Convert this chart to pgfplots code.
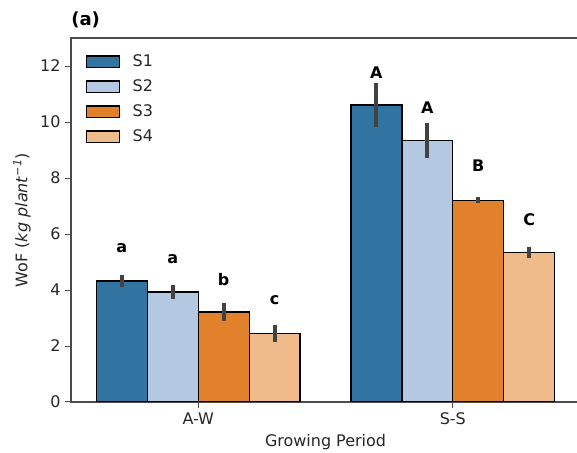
\documentclass[border=0pt]{standalone}
\usepackage{pgfplots}
\pgfplotsset{compat=1.18}
\usepackage{fontspec}
\setmainfont{DejaVu Sans}
\definecolor{cS1}{HTML}{3274A1}
\definecolor{cS2}{HTML}{B5C8E2}
\definecolor{cS3}{HTML}{E1812C}
\definecolor{cS4}{HTML}{F0BB8B}
\definecolor{txt}{HTML}{262626}
\definecolor{errc}{HTML}{424242}
\begin{document}
\begin{tikzpicture}
\begin{axis}[
  name=ax,
  width=366.5pt, height=262pt, scale only axis,
  xmin=-0.5, xmax=1.5, ymin=0, ymax=13,
  xtick={0,1}, xticklabels={A-W,S-S},
  ytick={0,2,4,6,8,10,12},
  tick align=outside, xtick pos=bottom, ytick pos=left,
  major tick length=4pt,
  tick style={black!70, line width=0.7pt},
  axis line style={black!70, line width=0.8pt},
  /pgf/number format/assume math mode=true,
  tick label style={font=\fontsize{11.5}{13}\selectfont, text=txt},
  label style={font=\fontsize{11.5}{13}\selectfont, text=txt},
  xlabel={Growing Period},
  ylabel={WoF (\textit{kg plant}\textsuperscript{\textit{−1}})},
  legend style={draw=none, fill=none, at={(rel axis cs:0.02,0.97)}, anchor=north west,
    font=\fontsize{11.5}{13}\selectfont, text=txt, row sep=4pt,
    /tikz/every odd column/.append style={column sep=7pt}},
  legend cell align=left,
  legend image code/.code={\draw[#1, line width=0.9pt, draw=black] (0pt,-4.2pt) rectangle (24pt,4.2pt);},
  error bars/error bar style={line width=2.8pt, color=errc},
]
\addplot[ybar, bar width=0.2, bar shift=0pt, fill=cS1, draw=black, line width=0.9pt,
  error bars/.cd, y dir=both, y explicit, error mark=none]
  coordinates {(-0.3,4.32) +- (0,0.23) (0.7,10.61) +- (0,0.77)};
\addlegendentry{S1}
\addplot[ybar, bar width=0.2, bar shift=0pt, fill=cS2, draw=black, line width=0.9pt,
  error bars/.cd, y dir=both, y explicit, error mark=none]
  coordinates {(-0.1,3.93) +- (0,0.26) (0.9,9.33) +- (0,0.63)};
\addlegendentry{S2}
\addplot[ybar, bar width=0.2, bar shift=0pt, fill=cS3, draw=black, line width=0.9pt,
  error bars/.cd, y dir=both, y explicit, error mark=none]
  coordinates {(0.1,3.21) +- (0,0.32) (1.1,7.21) +- (0,0.12)};
\addlegendentry{S3}
\addplot[ybar, bar width=0.2, bar shift=0pt, fill=cS4, draw=black, line width=0.9pt,
  error bars/.cd, y dir=both, y explicit, error mark=none]
  coordinates {(0.3,2.45) +- (0,0.31) (1.3,5.33) +- (0,0.19)};
\addlegendentry{S4}
\addplot[draw=none, mark=none, forget plot, nodes near coords, point meta=explicit symbolic,
  nodes near coords style={anchor=center, font=\bfseries\fontsize{11.5}{13}\selectfont, text=black}]
  coordinates {(-0.3,5.49)[a] (-0.1,5.1)[a] (0.1,4.39)[b] (0.3,3.64)[c]
               (0.7,11.77)[A] (0.9,10.52)[A] (1.1,8.43)[B] (1.3,6.52)[C]};
\end{axis}
\node[anchor=base west, font=\bfseries\fontsize{13}{15}\selectfont, text=black, inner sep=0pt]
  at ([yshift=9pt]ax.north west) {(a)};
\pgfresetboundingbox
\path[use as bounding box] (-51.1pt,-36.7pt) rectangle (364.3pt,289.4pt);
\end{tikzpicture}
\end{document}
